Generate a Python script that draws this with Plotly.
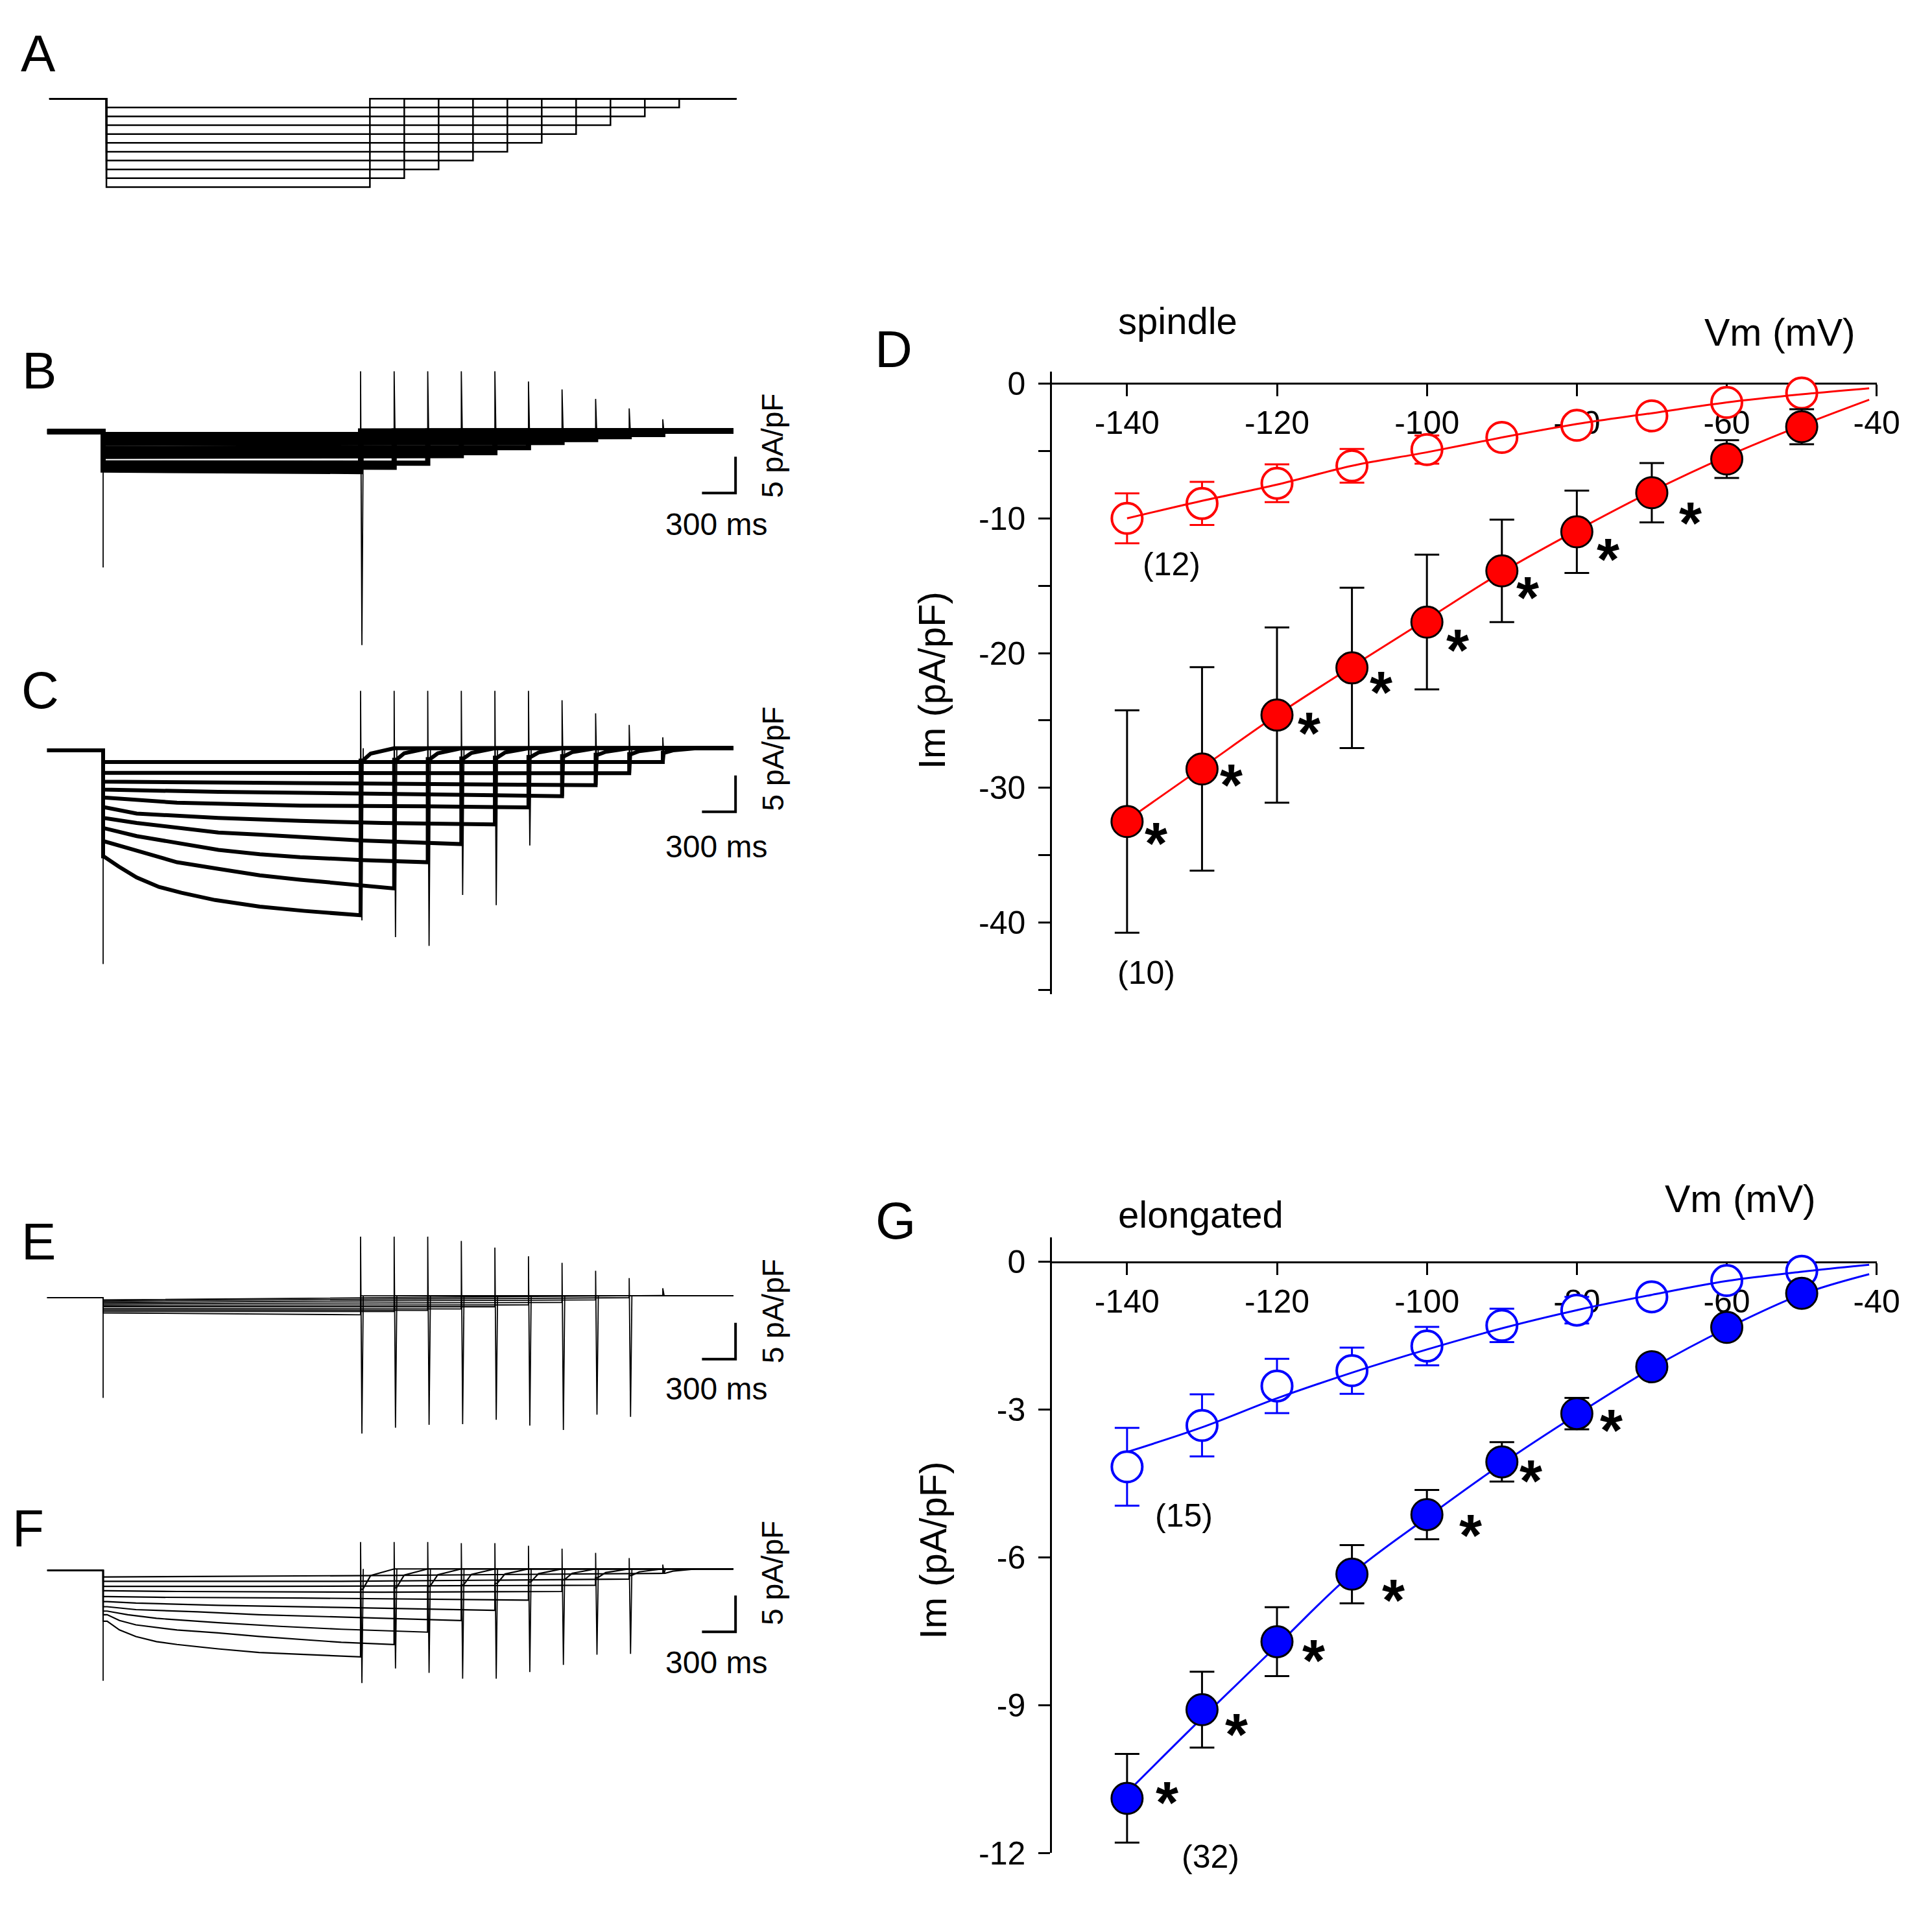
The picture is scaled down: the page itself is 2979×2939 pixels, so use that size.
import plotly.graph_objects as go

W, H = 2979, 2939
FONT = "Liberation Sans"

# ---- protocol (panel A) ----
sweep_mv = [-140, -130, -120, -110, -100, -90, -80, -70, -60, -50]
hold_mv = -40
t_on = 500
t_end = [2800, 3100, 3400, 3700, 4000, 4300, 4600, 4900, 5200, 5500]
t_stop_protocol = 6000
t_stop_trace = 6130

# ---- panel B (pA/pF) ----
b_start = [-5.3, -4.8, -4.3, -3.4, -2.9, -2.3, -1.6, -1.2, -0.8, -0.4]
b_end = [-5.5, -4.9, -4.35, -3.3, -2.9, -2.2, -1.5, -1.1, -0.7, -0.4]
b_up = [8.3, 8.3, 8.3, 8.3, 8.3, 6.9, 5.8, 4.5, 3.2, 1.7]
b_down = [-29.4, None, None, None, None, None, None, None, None, None]
b_onset = -18.7
b_hold_after = 0.1

# ---- panel C ----
c_t = [
    [505, 640, 800, 1000, 1200, 1500, 1900, 2300, 2800],
    [505, 800, 1160, 1530, 1900, 2260, 2630, 3100],
    [505, 800, 1160, 1530, 1900, 2260, 2810, 3400],
    [505, 800, 1160, 1530, 1900, 2260, 2810, 3700],
    [505, 800, 1530, 2260, 2990, 4000],
    [505, 1160, 2260, 3360, 4300],
    [505, 1530, 2990, 4600],
    [505, 2260, 4900],
    [505, 2630, 5200],
    [505, 2990, 5500],
]
c_i = [
    [-14.6, -16.0, -17.5, -18.8, -19.6, -20.6, -21.5, -22.1, -22.7],
    [-12.5, -13.8, -15.4, -16.3, -17.2, -17.8, -18.3, -19.0],
    [-10.7, -11.8, -12.8, -13.7, -14.3, -14.7, -15.1, -15.4],
    [-9.3, -10.0, -10.7, -11.3, -11.6, -11.9, -12.4, -12.9],
    [-7.8, -8.7, -9.3, -9.7, -10.0, -10.2],
    [-6.5, -7.2, -7.6, -7.7, -7.85],
    [-5.4, -5.7, -6.0, -6.3],
    [-4.3, -4.5, -4.8],
    [-3.1, -3.1, -3.15],
    [-1.6, -1.5, -1.6],
]
c_tail0 = [-1.4, -1.3, -1.2, -1.1, -1.0, -0.9, -0.8, -0.6, -0.5, -0.3]
c_tail1 = [-0.45, -0.4, -0.4, -0.35, -0.3, -0.3, -0.25, -0.2, -0.1, 0.0]
c_up = [8.2, 8.2, 8.2, 8.2, 8.2, 8.2, 6.9, 5.1, 3.5, 1.8]
c_down = [-23.4, -25.7, -26.9, -19.9, -21.3, -13.1, None, None, None, None]
c_onset = -29.4
c_hold_after = 0.3

# ---- panel E ----
e_start = [-2.1, -1.9, -1.7, -1.5, -1.25, -1.05, -0.85, -0.65, -0.45, -0.3]
e_end = [-2.35, -1.9, -1.75, -1.55, -1.25, -1.0, -0.65, -0.3, 0.0, 0.3]
e_up = [8.4, 8.4, 8.4, 7.8, 6.9, 5.7, 4.8, 3.7, 2.7, 1.3]
e_down = [-18.7, -17.9, -17.5, -17.4, -16.8, -17.6, -18.2, -16.1, -16.4, None]
e_onset = -13.8
e_hold_after = 0.25

# ---- panel F ----
f_t = [
    [536, 646, 793, 977, 1160, 1527, 1894, 2261, 2800],
    [536, 646, 793, 1160, 1527, 1894, 2261, 2628, 3100],
    [536, 720, 977, 1527, 2078, 2628, 3400],
    [536, 793, 1344, 1894, 2628, 3700],
    [536, 793, 1527, 2628, 4000],
    [536, 977, 2261, 4300],
    [536, 1160, 2995, 4600],
    [536, 1894, 4900],
    [536, 2628, 5200],
    [536, 2995, 5500],
]
f_i = [
    [-7.0, -8.2, -9.1, -9.8, -10.2, -10.8, -11.3, -11.55, -11.9],
    [-6.1, -6.9, -7.5, -8.2, -8.6, -9.1, -9.5, -9.9, -10.2],
    [-5.6, -6.1, -6.6, -7.2, -7.7, -8.1, -8.5],
    [-5.0, -5.4, -5.7, -6.1, -6.4, -6.9],
    [-4.3, -4.5, -4.8, -5.1, -5.5],
    [-3.6, -3.7, -3.8, -4.1],
    [-2.8, -2.9, -3.0, -2.9],
    [-2.2, -2.2, -2.05],
    [-1.5, -1.5, -1.2],
    [-0.9, -0.7, -0.45],
]
f_tail0 = [-2.6, -2.4, -2.2, -2.0, -1.8, -1.6, -1.3, -1.0, -0.7, -0.4]
f_tail1 = [-0.7, -0.65, -0.6, -0.55, -0.5, -0.45, -0.4, -0.3, -0.2, -0.1]
f_up = [3.9, 3.9, 3.9, 3.75, 3.75, 3.4, 3.0, 2.4, 1.7, 0.8]
f_down = [-15.5, -13.5, -14.1, -14.9, -14.9, -14.0, -13.0, -11.6, -11.5, None]
f_onset = -15.2
f_hold_after = 0.2

# scale bars (ms, pA/pF)
bar_t = [5850, 6150, 6150]
bar_i = [-8.45, -8.45, -3.45]

# ---- panel D (spindle) ----
iv_mv = [-140, -130, -120, -110, -100, -90, -80, -70, -60, -50]
d_open_mean = [-10.0, -8.9, -7.4, -6.1, -4.9, -4.0, -3.1, -2.4, -1.4, -0.7]
d_open_err = [1.85, 1.6, 1.4, 1.25, 1.05, 0.6, 0.5, 0.4, 0.3, 0.3]
d_fill_mean = [-32.5, -28.6, -24.6, -21.1, -17.7, -13.9, -11.0, -8.1, -5.6, -3.2]
d_fill_err = [8.25, 7.55, 6.5, 5.95, 5.0, 3.8, 3.05, 2.2, 1.4, 1.3]
fit_mv = [-140, -130, -120, -110, -100, -90, -80, -70, -60, -50, -41]
d_open_fit = [-10.0, -8.7, -7.5, -6.1, -5.1, -4.0, -3.0, -2.2, -1.4, -0.8, -0.35]
d_fill_fit = [-32.4, -28.5, -24.6, -21.0, -17.5, -14.0, -10.9, -8.0, -5.4, -3.1, -1.2]
d_star_mv = [-140, -130, -120, -110, -100, -90, -80, -70]

# ---- panel G (elongated) ----
g_open_mean = [-4.16, -3.32, -2.52, -2.21, -1.71, -1.29, -0.98, -0.71, -0.38, -0.19]
g_open_err = [0.79, 0.63, 0.55, 0.47, 0.39, 0.34, 0.27, 0.15, 0.1, 0.1]
g_fill_mean = [-10.89, -9.09, -7.71, -6.34, -5.13, -4.06, -3.08, -2.13, -1.33, -0.64]
g_fill_err = [0.9, 0.77, 0.7, 0.59, 0.5, 0.4, 0.32, 0.2, 0.15, 0.15]
g_open_fit = [-3.86, -3.36, -2.77, -2.25, -1.78, -1.35, -0.98, -0.67, -0.39, -0.2, -0.06]
g_fill_fit = [-10.77, -9.26, -7.79, -6.33, -5.19, -4.1, -3.1, -2.16, -1.35, -0.66, -0.25]
g_star_mv = [-140, -130, -120, -110, -100, -90, -80]

x_ticks = [-140, -120, -100, -80, -60, -40]
x_ticktext = ["-140", "-120", "-100", "-80", "-60", "-40"]
d_yticks = [0, -10, -20, -30, -40]
d_yticktext = ["0", "-10", "-20", "-30", "-40"]
d_yminor = [-5, -15, -25, -35, -45]
g_yticks = [0, -3, -6, -9, -12]
g_yticktext = ["0", "-3", "-6", "-9", "-12"]

# star placement relative to each marker (pixels right, pixels down)
d_star_dx = [45, 45, 49, 45, 47, 40, 48, 60]
d_star_dy = [24, 15, 18, 28, 34, 32, 33, 37]
g_star_dx = [62, 53, 56, 64, 67, 45, 53]
g_star_dy = [-3, 29, 20, 31, 23, 20, 16]


def px(v):
    return v / W


def py(v):
    return 1 - v / H


def level_path(times, currents, tail0, tail1, hold_after):
    xs, ys = [], []
    for k in range(len(t_end)):
        te = t_end[k]
        tx = [0, t_on, t_on] + list(times[k])
        ty = [0, 0, currents[k][0]] + list(currents[k])
        if tail0 is not None:
            tx += [te, te + 20, te + 90, te + 300]
            ty += [tail0[k], tail0[k], tail1[k], hold_after]
        else:
            tx += [te]
            ty += [hold_after]
        tx += [t_stop_trace]
        ty += [hold_after]
        xs += tx + [None]
        ys += ty + [None]
    return xs, ys


def spike_path(last, up, down, onset, hold_after):
    xs = [t_on, t_on, None]
    ys = [0, onset, None]
    for k in range(len(t_end)):
        te = t_end[k]
        low = down[k] if down[k] is not None else last[k]
        xs += [te, te, te + 12, te + 24, None]
        ys += [last[k], up[k], low, hold_after, None]
    return xs, ys


fig = go.Figure()

# panel A: voltage protocol
ax, ay = [], []
for k, v in enumerate(sweep_mv):
    ax += [0, t_on, t_on, t_end[k], t_end[k], t_stop_protocol, None]
    ay += [hold_mv, hold_mv, v, v, hold_mv, hold_mv, None]
fig.add_trace(go.Scatter(x=ax, y=ay, mode="lines", line=dict(color="black", width=2.5),
                         xaxis="x", yaxis="y", hoverinfo="skip"))

# current trace panels
b_times = [[t_on, t_end[k]] for k in range(10)]
b_curr = [[b_start[k], b_end[k]] for k in range(10)]
e_curr = [[e_start[k], e_end[k]] for k in range(10)]

panels = [
    ("2", b_times, b_curr, None, None, b_hold_after, b_up, b_down, b_onset, 8),
    ("3", c_t, c_i, c_tail0, c_tail1, c_hold_after, c_up, c_down, c_onset, 6),
    ("4", b_times, e_curr, None, None, e_hold_after, e_up, e_down, e_onset, 1.8),
    ("5", f_t, f_i, f_tail0, f_tail1, f_hold_after, f_up, f_down, f_onset, 2.2),
]
for ax_id, tt, cc, t0, t1, ha, up, dn, ons, lw in panels:
    lx, ly = level_path(tt, cc, t0, t1, ha)
    fig.add_trace(go.Scatter(x=lx, y=ly, mode="lines", line=dict(color="black", width=lw),
                             xaxis="x" + ax_id, yaxis="y" + ax_id, hoverinfo="skip"))
    last = [c[-1] for c in cc]
    sx, sy = spike_path(last, up, dn, ons, ha)
    fig.add_trace(go.Scatter(x=sx, y=sy, mode="lines", line=dict(color="black", width=1.8),
                             xaxis="x" + ax_id, yaxis="y" + ax_id, hoverinfo="skip"))
    fig.add_trace(go.Scatter(x=bar_t, y=bar_i, mode="lines", line=dict(color="black", width=4),
                             xaxis="x" + ax_id, yaxis="y" + ax_id, hoverinfo="skip"))


def iv_traces(ax_id, open_mean, open_err, fill_mean, fill_err, open_fit, fill_fit, color):
    fig.add_trace(go.Scatter(
        x=iv_mv, y=open_mean, mode="markers",
        error_y=dict(type="data", array=open_err, color=color, thickness=3, width=19),
        marker=dict(size=47, color="white", line=dict(color=color, width=4)),
        xaxis="x" + ax_id, yaxis="y" + ax_id))
    fig.add_trace(go.Scatter(x=fit_mv, y=open_fit, mode="lines",
                             line=dict(color=color, width=3, shape="spline"),
                             xaxis="x" + ax_id, yaxis="y" + ax_id))
    fig.add_trace(go.Scatter(x=fit_mv, y=fill_fit, mode="lines",
                             line=dict(color=color, width=3, shape="spline"),
                             xaxis="x" + ax_id, yaxis="y" + ax_id))
    fig.add_trace(go.Scatter(
        x=iv_mv, y=fill_mean, mode="markers",
        error_y=dict(type="data", array=fill_err, color="black", thickness=3, width=19),
        marker=dict(size=48, color=color, line=dict(color="black", width=3)),
        xaxis="x" + ax_id, yaxis="y" + ax_id))


iv_traces("6", d_open_mean, d_open_err, d_fill_mean, d_fill_err, d_open_fit, d_fill_fit, "#FF0000")
iv_traces("7", g_open_mean, g_open_err, g_fill_mean, g_fill_err, g_open_fit, g_fill_fit, "#0000FF")

hidden = dict(visible=False, fixedrange=True)
tr_x = [px(65.5), px(1157.4)]
layout = dict(
    width=W, height=H, margin=dict(l=0, r=0, t=0, b=0),
    paper_bgcolor="white", plot_bgcolor="white", showlegend=False,
    font=dict(family=FONT, color="black"),
    xaxis=dict(domain=[px(68.6), px(1141.4)], range=[0, 6000], anchor="y", **hidden),
    yaxis=dict(domain=[py(277.8), py(134.2)], range=[-142, -38], anchor="x", **hidden),
    xaxis2=dict(domain=tr_x, range=[0, 6250], anchor="y2", **hidden),
    yaxis2=dict(domain=[py(995.2), py(561.7)], range=[-29.8, 8.4], anchor="x2", **hidden),
    xaxis3=dict(domain=tr_x, range=[0, 6250], anchor="y3", **hidden),
    yaxis3=dict(domain=[py(1493.2), py(1060.8)], range=[-29.8, 8.3], anchor="x3", **hidden),
    xaxis4=dict(domain=tr_x, range=[0, 6250], anchor="y4", **hidden),
    yaxis4=dict(domain=[py(2224.5), py(1913.5)], range=[-18.9, 8.5], anchor="x4", **hidden),
    xaxis5=dict(domain=tr_x, range=[0, 6250], anchor="y5", **hidden),
    yaxis5=dict(domain=[py(2614.2), py(2390.6)], range=[-15.7, 4.0], anchor="x5", **hidden),
)

axis_style = dict(showline=True, linecolor="black", linewidth=3, ticks="outside", ticklen=18,
                  tickwidth=3, tickcolor="black", showgrid=False, zeroline=False,
                  tickfont=dict(size=50, family=FONT, color="black"), layer="below traces",
                  fixedrange=True)

layout["xaxis6"] = dict(domain=[px(1634), px(2921)], range=[-150, -40], anchor="free",
                        position=py(582), side="bottom", tickvals=x_ticks, ticktext=x_ticktext,
                        ticklabelstandoff=-2, **axis_style)
layout["yaxis6"] = dict(domain=[py(1535.6), py(563)], range=[-45.3, 0.9], anchor="x6",
                        tickvals=d_yticks, ticktext=d_yticktext, ticklabelstandoff=10,
                        minor=dict(tickvals=d_yminor, ticks="outside", ticklen=18, tickwidth=3,
                                   tickcolor="black", showgrid=False),
                        **axis_style)
layout["xaxis7"] = dict(domain=[px(1634), px(2921)], range=[-150, -40], anchor="free",
                        position=py(1954), side="bottom", tickvals=x_ticks, ticktext=x_ticktext,
                        ticklabelstandoff=-2, **axis_style)
layout["yaxis7"] = dict(domain=[py(2877.5), py(1915.5)], range=[-12, 0.5], anchor="x7",
                        tickvals=g_yticks, ticktext=g_yticktext, ticklabelstandoff=10,
                        **axis_style)
fig.update_layout(**layout)


def label(text, x, y, size, angle=0, **kw):
    fig.add_annotation(text=text, x=px(x), y=py(y), xref="paper", yref="paper",
                       xanchor="center", yanchor="middle", showarrow=False, textangle=angle,
                       font=dict(family=FONT, size=size, color="black"), **kw)


# panel letters
for txt, x, y in [("A", 52, 66), ("B", 53, 562), ("C", 55, 1061), ("D", 1387, 528),
                  ("E", 52, 1922), ("F", 36, 2370), ("G", 1390, 1890)]:
    label(txt, x, y, 80)

# scale bar texts
for yv, ys in [(679, 802), (1168, 1305), (2031, 2152), (2440, 2580)]:
    label("5 pA/pF", 1198, yv, 46, angle=-90)
    label("300 ms", 1110, ys, 48)

# IV panel texts
label("spindle", 1830, 484, 58)
label("Vm (mV)", 2770, 502, 59)
label("Im (pA/pF)", 1446, 1046, 58, angle=-90)
label("(12)", 1820, 864, 50)
label("(10)", 1781, 1502, 50)
label("elongated", 1866, 1880, 58)
label("Vm (mV)", 2708, 1856, 59)
label("Im (pA/pF)", 1448, 2405, 58, angle=-90)
label("(15)", 1840, 2350, 50)
label("(32)", 1881, 2883, 50)

# significance stars
for j, mv in enumerate(d_star_mv):
    k = iv_mv.index(mv)
    fig.add_annotation(text="<b>*</b>", x=mv, y=d_fill_mean[k], xref="x6", yref="y6",
                       showarrow=False, xshift=d_star_dx[j], yshift=-(d_star_dy[j] + 10),
                       font=dict(family=FONT, size=90, color="black"))
for j, mv in enumerate(g_star_mv):
    k = iv_mv.index(mv)
    fig.add_annotation(text="<b>*</b>", x=mv, y=g_fill_mean[k], xref="x7", yref="y7",
                       showarrow=False, xshift=g_star_dx[j], yshift=-(g_star_dy[j] + 10),
                       font=dict(family=FONT, size=90, color="black"))

fig.write_html("out.html")
